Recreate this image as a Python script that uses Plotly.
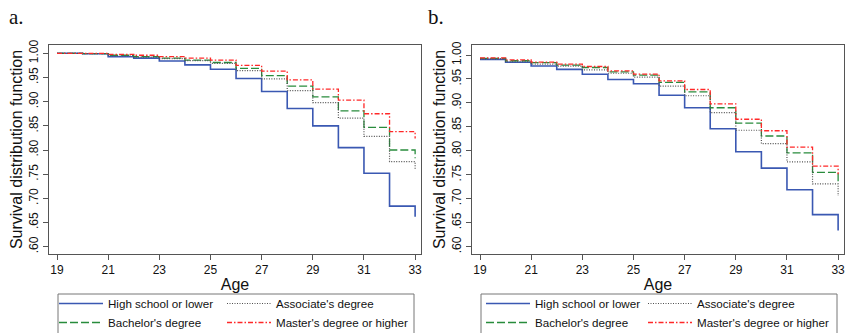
import plotly.graph_objects as go

# ---------------- data ----------------
ages = list(range(19, 34))
series_names = ["High school or lower", "Associate's degree",
                "Bachelor's degree", "Master's degree or higher"]

# panel a
a_high = [1.000, 0.999, 0.993, 0.990, 0.984, 0.976, 0.967, 0.948, 0.921, 0.886, 0.850, 0.805, 0.752, 0.684, 0.662]
a_assoc = [1.000, 0.9995, 0.995, 0.992, 0.989, 0.985, 0.979, 0.964, 0.947, 0.923, 0.898, 0.866, 0.828, 0.776, 0.759]
a_bach = [1.000, 0.9995, 0.996, 0.993, 0.990, 0.986, 0.981, 0.969, 0.954, 0.932, 0.910, 0.881, 0.847, 0.800, 0.783]
a_mast = [1.000, 1.000, 0.998, 0.996, 0.993, 0.990, 0.986, 0.975, 0.963, 0.945, 0.926, 0.903, 0.875, 0.838, 0.824]

# panel b
b_high = [0.991, 0.985, 0.977, 0.970, 0.960, 0.949, 0.940, 0.916, 0.890, 0.846, 0.798, 0.764, 0.719, 0.667, 0.634]
b_assoc = [0.992, 0.986, 0.981, 0.977, 0.969, 0.962, 0.954, 0.935, 0.915, 0.880, 0.843, 0.815, 0.777, 0.731, 0.706]
b_bach = [0.993, 0.988, 0.984, 0.979, 0.974, 0.965, 0.958, 0.943, 0.923, 0.890, 0.858, 0.831, 0.796, 0.755, 0.735]
b_mast = [0.994, 0.990, 0.985, 0.981, 0.976, 0.967, 0.960, 0.946, 0.928, 0.898, 0.866, 0.842, 0.808, 0.768, 0.751]

x_ticks = [19, 21, 23, 25, 27, 29, 31, 33]
y_ticks = [0.60, 0.65, 0.70, 0.75, 0.80, 0.85, 0.90, 0.95, 1.00]
y_ticktext = [".60", ".65", ".70", ".75", ".80", ".85", ".90", ".95", "1.00"]

# ---------------- styling ----------------
W, H = 845, 333
ML, MR, MT, MB = 49, 1, 45, 79
PW, PH = W - ML - MR, H - MT - MB

def px(x):
    return (x - ML) / PW

def py(y):
    return (H - MB - y) / PH

styles = {
    "High school or lower": dict(color="rgb(58,88,178)", width=1.6, dash="solid"),
    "Associate's degree": dict(color="rgb(80,80,80)", width=1.2, dash="1px,1.5px"),
    "Bachelor's degree": dict(color="rgb(40,140,60)", width=1.3, dash="8px,3px"),
    "Master's degree or higher": dict(color="rgb(255,40,40)", width=1.3, dash="5px,2px,1.5px,2px"),
}

panel_a = {"High school or lower": a_high, "Associate's degree": a_assoc,
           "Bachelor's degree": a_bach, "Master's degree or higher": a_mast}
panel_b = {"High school or lower": b_high, "Associate's degree": b_assoc,
           "Bachelor's degree": b_bach, "Master's degree or higher": b_mast}

legend_col = {"High school or lower": 0, "Bachelor's degree": 0,
              "Associate's degree": 1, "Master's degree or higher": 1}

fig = go.Figure()
order = ["High school or lower", "Bachelor's degree", "Associate's degree", "Master's degree or higher"]
for p, (data, xa, ya) in enumerate([(panel_a, "x", "y"), (panel_b, "x2", "y2")]):
    for name in order:
        lg_index = p * 2 + legend_col[name] + 1
        lg = "legend" if lg_index == 1 else f"legend{lg_index}"
        fig.add_trace(go.Scatter(
            x=ages, y=data[name], mode="lines", line_shape="hv",
            line=styles[name], name=name, xaxis=xa, yaxis=ya,
            legend=lg, showlegend=True, hoverinfo="skip"))

font_main = "Liberation Sans, Arial, sans-serif"
axis_common = dict(showline=True, mirror=True, linecolor="#555", linewidth=1,
                   ticks="outside", ticklen=5, tickcolor="#555", tickwidth=1,
                   showgrid=False, zeroline=False, automargin=False,
                   ticklabeloverflow="allow",
                   tickfont=dict(family=font_main, size=12, color="#111"))

x_range = [18.687, 33.23]
title_font = dict(family=font_main, size=16, color="#111")
fig.update_layout(
    width=W, height=H,
    margin=dict(l=ML, r=MR, t=MT, b=MB, autoexpand=False),
    paper_bgcolor="white", plot_bgcolor="white",
    xaxis=dict(domain=[0, px(421)], range=x_range, tickvals=x_ticks,
               title=dict(text="Age", font=title_font, standoff=2),
               **axis_common),
    xaxis2=dict(domain=[px(472), 1.0], range=x_range, tickvals=x_ticks, anchor="y2",
                title=dict(text="Age", font=title_font, standoff=2),
                **axis_common),
    yaxis=dict(domain=[0, 1], range=[0.5849, 1.0172], tickvals=y_ticks, ticktext=y_ticktext,
               tickangle=-90,
               title=dict(text="Survival distribution function", font=title_font, standoff=0),
               **axis_common),
    yaxis2=dict(domain=[0, 1], range=[0.5848, 1.0209], tickvals=y_ticks, ticktext=y_ticktext,
                tickangle=-90, anchor="x2",
                title=dict(text="Survival distribution function", font=title_font, standoff=0),
                **axis_common),
    showlegend=True,
)

leg_common = dict(orientation="v", xanchor="left", yanchor="top", borderwidth=0,
                  bgcolor="rgba(0,0,0,0)", itemwidth=44, tracegroupgap=0,
                  font=dict(family=font_main, size=11.6, color="#111"),
                  itemclick=False, itemdoubleclick=False)
leg_top = 289
fig.update_layout(
    legend=dict(x=px(54), y=py(leg_top), **leg_common),
    legend2=dict(x=px(222), y=py(leg_top), **leg_common),
    legend3=dict(x=px(481), y=py(leg_top), **leg_common),
    legend4=dict(x=px(643), y=py(leg_top), **leg_common),
)

# legend boxes
for x0, x1 in [(58, 414), (481, 837)]:
    fig.add_shape(type="rect", xref="paper", yref="paper",
                  x0=px(x0), x1=px(x1), y0=py(340), y1=py(294),
                  line=dict(color="#777", width=1), fillcolor="rgba(0,0,0,0)")

# panel letters
for txt, xpos in [("a.", 7), ("b.", 426)]:
    fig.add_annotation(text=txt, xref="paper", yref="paper", x=px(xpos), y=py(17),
                       xanchor="left", yanchor="middle", showarrow=False,
                       font=dict(family="Liberation Serif, Times New Roman, serif", size=21, color="#111"))

fig.write_html("out.html",
               config={"displayModeBar": False, "staticPlot": True},
               post_script="document.body.style.margin='0';document.body.style.padding='0';"
                           "document.body.style.overflow='hidden';")
